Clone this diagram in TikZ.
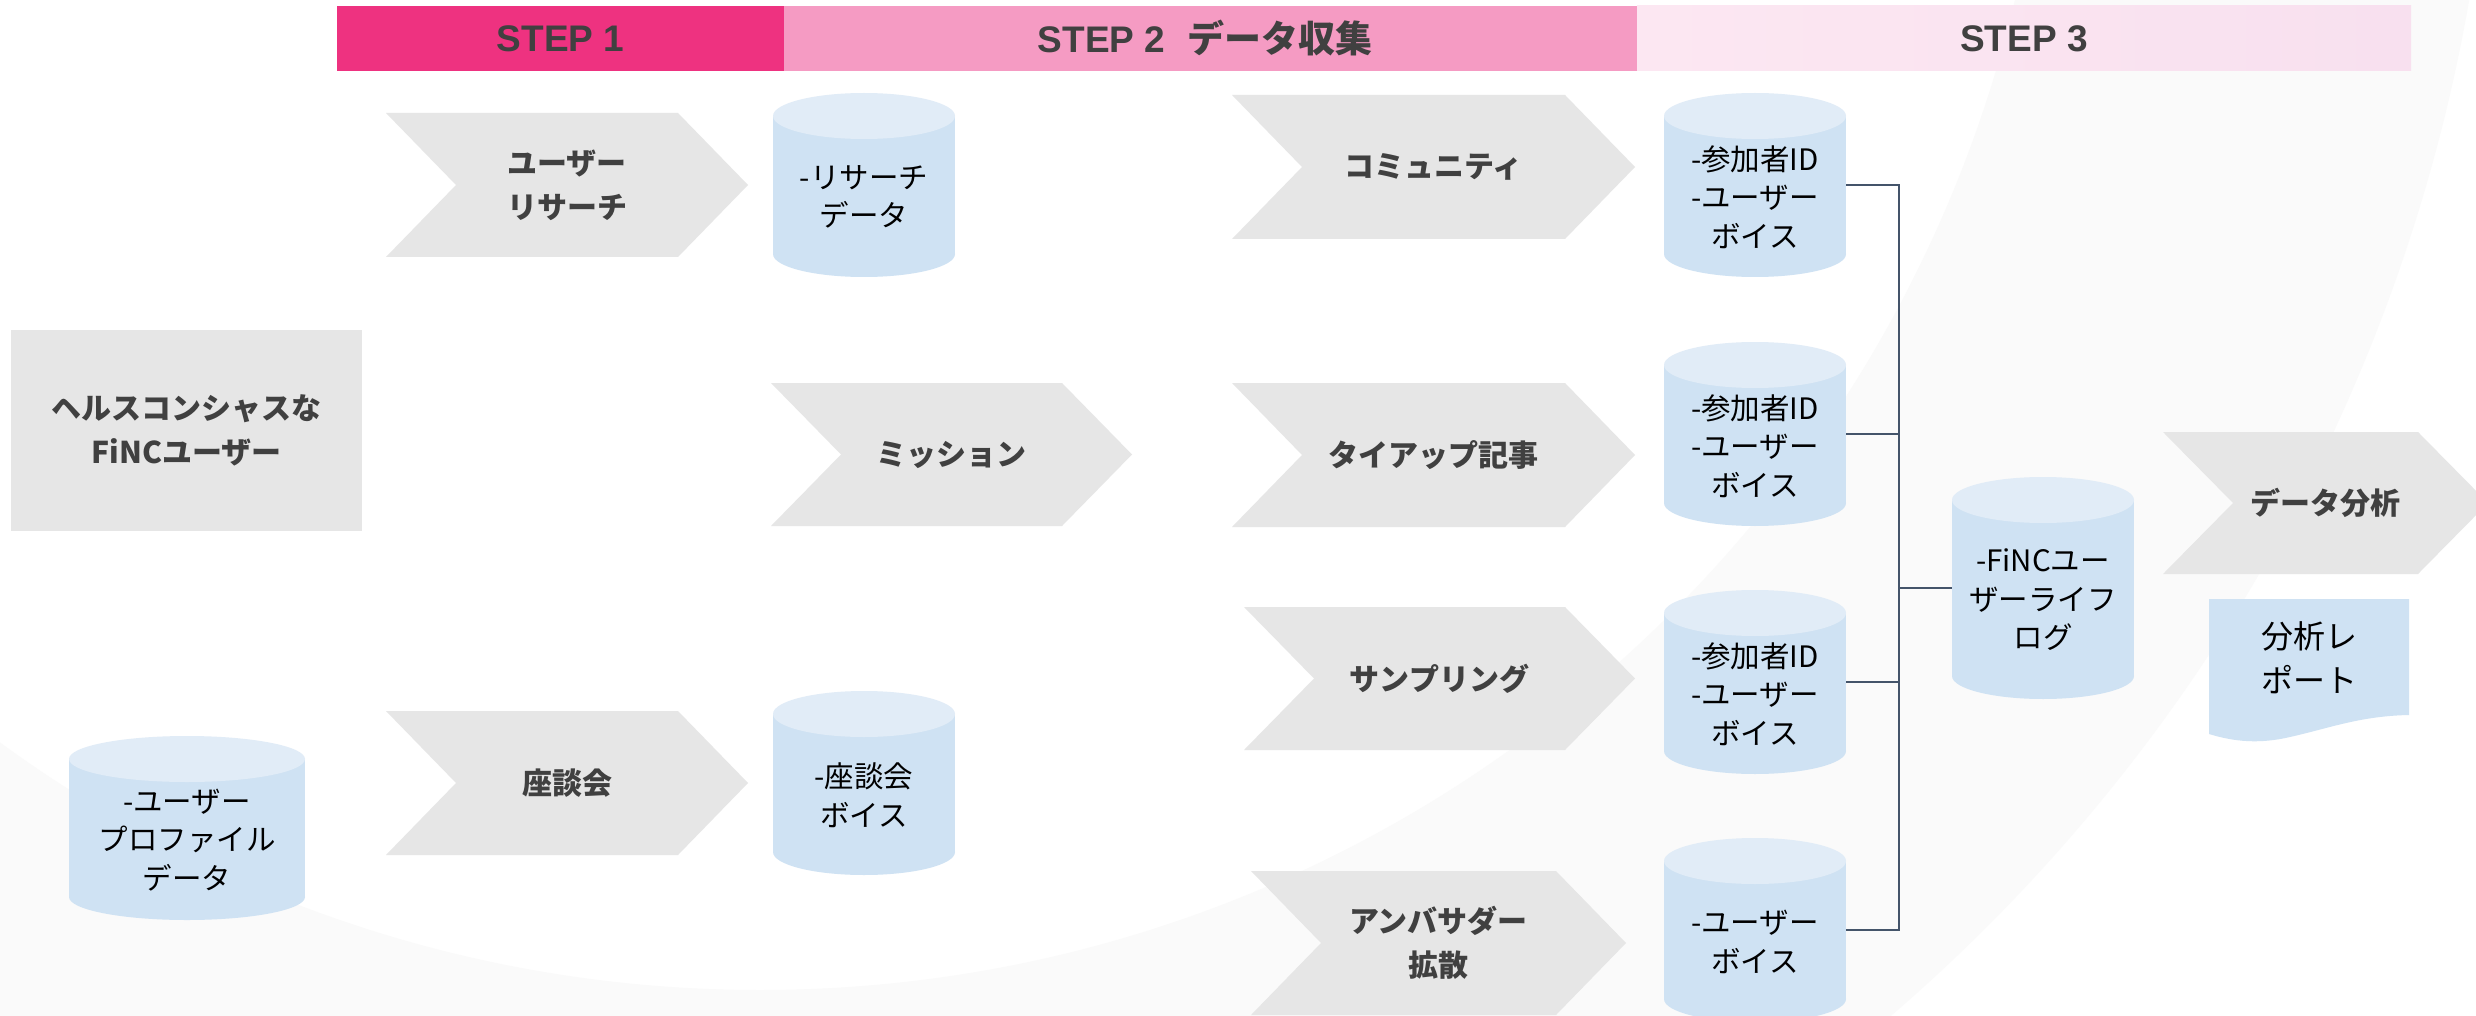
\documentclass[tikz,border=0pt]{standalone}
\usepackage{fontspec}
\setmainfont{Liberation Sans}
\newfontfamily\jp{Noto Sans CJK JP}
\definecolor{stepone}{RGB}{238,50,128}
\definecolor{steptwo}{RGB}{245,155,195}
\definecolor{stepthreea}{RGB}{252,231,242}
\definecolor{stepthreeb}{RGB}{248,224,239}
\definecolor{chevgray}{RGB}{230,230,230}
\definecolor{cylbody}{RGB}{207,226,243}
\definecolor{cyltop}{RGB}{225,236,247}
\definecolor{txtgray}{RGB}{64,64,64}
\definecolor{connc}{RGB}{68,84,106}
\definecolor{ringc}{RGB}{250,250,250}
\tikzset{
  chevtext/.style={font=\jp\bfseries\fontsize{30}{44}\selectfont, text=txtgray, align=center, inner sep=0pt},
  cyltext/.style={font=\jp\fontsize{29.5}{38.5}\selectfont, text=black, align=center, inner sep=0pt},
  steptext/.style={font=\bfseries\fontsize{37}{40}\selectfont, text=txtgray, inner sep=0pt},
  conn/.style={draw=connc, line width=2.5pt},
  shapebox/.style={inner sep=0pt, draw=none}
}
\newcommand\mychev[6]{% name, xleft, xtip, ytop, ybot, text
  \fill[chevgray] (#2,#4) -- (#3-70,#4) -- (#3,{(#4+#5)/2}) -- (#3-70,#5) -- (#2,#5) -- (#2+70,{(#4+#5)/2}) -- cycle;
  \node[chevtext] (#1) at ({(#2+#3)/2},{(#4+#5)/2}) {#6};
}
\newcommand\mycyl[6]{% name, x1, x2, y1, y2, text
  \pgfmathsetmacro\mycx{(#2+#3)/2}
  \pgfmathsetmacro\mycyy{(#4+#5)/2}
  \pgfmathsetmacro\myrx{(#3-#2)/2}
  \pgfmathsetmacro\mywd{#3-#2}
  \pgfmathsetmacro\myht{#5-#4}
  \fill[cylbody] (\mycx,#5-23) ellipse [x radius=\myrx, y radius=23];
  \fill[cylbody] (#2,#4+23) rectangle (#3,#5-23);
  \fill[cyltop] (\mycx,#4+23) ellipse [x radius=\myrx, y radius=23];
  \node[shapebox, minimum width=\mywd pt, minimum height=\myht pt] (#1) at (\mycx,\mycyy) {};
  \node[cyltext] (#1-t) at (\mycx,\mycyy+12) {#6};
}
\begin{document}
\begin{tikzpicture}[x=1pt,y=-1pt]
\useasboundingbox (0,0) rectangle (2476,1016);
\clip (0,0) rectangle (2476,1016);
\fill[white] (0,0) rectangle (2476,1016);
% background ring
\fill[ringc, even odd rule] (760,-300) circle [radius=1735] (760,-300) circle [radius=1290];
% header
\fill[stepone] (337,6) rectangle (784,71);
\fill[steptwo] (784,6) rectangle (1637,71);
\shade[left color=stepthreea, right color=stepthreeb] (1637,6) rectangle (2411,71);
\node[steptext] (s1) at (560.5,38.5) {STEP 1};
\node[steptext] (s2) at (1205,38.5) {STEP 2\hspace{22pt}{\jp\bfseries データ収集}};
\node[steptext] (s3) at (2024,38.5) {STEP 3};
% left box
\fill[chevgray] (11,330) rectangle (362,531);
\node[chevtext] (health) at (186.5,430.5) {ヘルスコンシャスな\\FiNCユーザー};
% chevrons
\mychev{ch1}{386}{748}{113}{257}{ユーザー\\リサーチ}
\mychev{ch2}{386}{748}{711}{855}{座談会}
\mychev{ch3}{771}{1132}{383}{526}{ミッション}
\mychev{ch4}{1232}{1635}{95}{239}{コミュニティ}
\mychev{ch5}{1232}{1635}{383}{527}{タイアップ記事}
\mychev{ch6}{1244}{1635}{607}{750}{サンプリング}
\mychev{ch7}{1251}{1626}{871}{1015}{アンバサダー\\拡散}
\mychev{ch8}{2163}{2488}{432}{574}{データ分析}
% cylinders
\mycyl{cy0}{69}{305}{736}{920}{-ユーザー\\プロファイル\\データ}
\mycyl{cy1}{773}{955}{93}{277}{-リサーチ\\データ}
\mycyl{cy2}{773}{955}{691}{875}{-座談会\\ボイス}
\mycyl{cy3}{1664}{1846}{93}{277}{-参加者ID\\-ユーザー\\ボイス}
\mycyl{cy4}{1664}{1846}{342}{526}{-参加者ID\\-ユーザー\\ボイス}
\mycyl{cy5}{1664}{1846}{590}{774}{-参加者ID\\-ユーザー\\ボイス}
\mycyl{cy6}{1664}{1846}{838}{1022}{-ユーザー\\ボイス}
\mycyl{cy7}{1952}{2134}{477}{699}{-FiNCユー\\ザーライフ\\ログ}
% report document
\fill[cylbody] (2209,599) -- (2409,599) -- (2409,715) .. controls (2360,716) and (2330,728) .. (2290,737) .. controls (2260,744) and (2235,742) .. (2209,734) -- cycle;
\node[font=\jp\fontsize{32}{44}\selectfont, align=center, inner sep=0pt] (rep) at (2309,658) {分析レ\\ポート};
% connectors
\coordinate (j) at (1899,588);
\draw[conn] (cy3.east) -| (j);
\draw[conn] (cy6.east) -| (j);
\draw[conn] (cy4.east) -- (cy4.east -| j);
\draw[conn] (cy5.east) -- (cy5.east -| j);
\draw[conn] (j) -- (cy7.west);
\end{tikzpicture}
\end{document}
